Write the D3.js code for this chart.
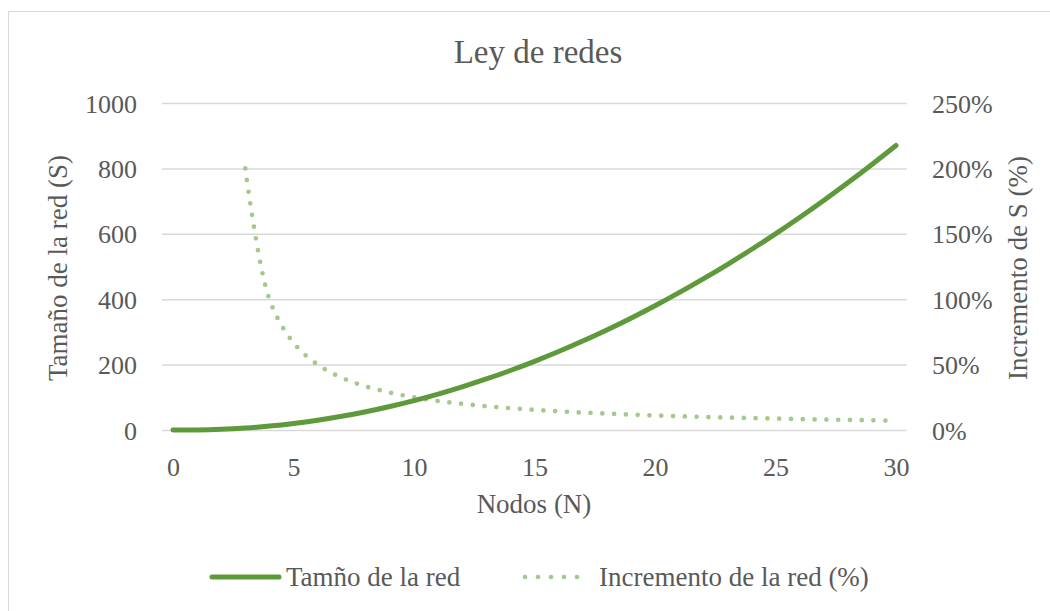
<!DOCTYPE html>
<html>
<head>
<meta charset="utf-8">
<script src="https://cdn.jsdelivr.net/npm/d3@7"></script>
<style>
  body { margin: 0; background: #fff; }
</style>
</head>
<body>
<div id="chart"></div>
<script>
// Data
const nodes = [0, 1, 2, 3, 4, 5, 6, 7, 8, 9, 10, 11, 12, 13, 14, 15, 16, 17, 18, 19, 20, 21, 22, 23, 24, 25, 26, 27, 28, 29, 30];
const networkSize = [0, 0, 2, 6, 12, 20, 30, 42, 56, 72, 90, 110, 132, 156, 182, 210, 240, 272, 306, 342, 380, 420, 462, 506, 552, 600, 650, 702, 756, 812, 870];
const increment = [null, null, null, 200, 100, 66.7, 50, 40, 33.3, 28.6, 25, 22.2, 20, 18.2, 16.7, 15.4, 14.3, 13.3, 12.5, 11.8, 11.1, 10.5, 10, 9.5, 9.1, 8.7, 8.3, 8.0, 7.7, 7.4, 7.1];

const xTicks = [0, 5, 10, 15, 20, 25, 30];
const leftTicks = [0, 200, 400, 600, 800, 1000];
const rightTicks = [0, 50, 100, 150, 200, 250];

const width = 1050, height = 611;
const solidColor = "#5e9a3b";
const dotColor = "#a3c98c";
const textColor = "#595959";
const serif = "'Liberation Serif'";

const svg = d3.select("#chart").append("svg")
    .attr("width", width)
    .attr("height", height);

// chart border
svg.append("rect")
    .attr("x", 8.5).attr("y", 11.5)
    .attr("width", width).attr("height", height)
    .attr("fill", "#fff")
    .attr("stroke", "#d9d9d9");

const plot = { left: 162, right: 907, top: 103, bottom: 430 };

const x = d3.scaleLinear().domain([0, 30]).range([173, 896]);
const yLeft = d3.scaleLinear().domain([0, 1000]).range([plot.bottom, plot.top]);
const yRight = d3.scaleLinear().domain([0, 250]).range([plot.bottom, plot.top]);

// gridlines
svg.append("g")
    .selectAll("line")
    .data(leftTicks)
    .enter().append("line")
    .attr("x1", plot.left).attr("x2", plot.right)
    .attr("y1", d => yLeft(d) + 0.5).attr("y2", d => yLeft(d) + 0.5)
    .attr("stroke", "#d9d9d9")
    .attr("stroke-width", 1.5);

function styleAxis(g, dy) {
    g.select(".domain").remove();
    g.attr("font-family", null).attr("font-size", null);
    g.selectAll("text")
        .style("font-family", serif)
        .style("font-size", "26px")
        .style("fill", textColor)
        .attr("dy", dy);
}

// left axis
svg.append("g")
    .attr("transform", `translate(${plot.left - 25},0)`)
    .call(d3.axisLeft(yLeft).tickValues(leftTicks).tickSize(0).tickPadding(0).tickFormat(d3.format("d")))
    .call(g => styleAxis(g, "0.35em"));

// right axis
svg.append("g")
    .attr("transform", `translate(${plot.right + 25},0)`)
    .call(d3.axisRight(yRight).tickValues(rightTicks).tickSize(0).tickPadding(0).tickFormat(d => d + "%"))
    .call(g => styleAxis(g, "0.35em"));

// bottom axis
svg.append("g")
    .attr("transform", `translate(0,${plot.bottom + 25})`)
    .call(d3.axisBottom(x).tickValues(xTicks).tickSize(0).tickPadding(0))
    .call(g => styleAxis(g, "0.8em"));

function label(sel, size) {
    return sel.style("font-family", serif).style("font-size", size).style("fill", textColor);
}

// titles
svg.append("text")
    .attr("x", 538).attr("y", 63)
    .attr("text-anchor", "middle")
    .call(label, "33px")
    .text("Ley de redes");

svg.append("text")
    .attr("x", 534).attr("y", 513)
    .attr("text-anchor", "middle")
    .call(label, "27px")
    .text("Nodos (N)");

svg.append("text")
    .attr("transform", "translate(67,268) rotate(-90)")
    .attr("text-anchor", "middle")
    .call(label, "27px")
    .text("Tamaño de la red (S)");

svg.append("text")
    .attr("transform", "translate(1027,268) rotate(-90)")
    .attr("text-anchor", "middle")
    .call(label, "27px")
    .text("Incremento de S (%)");

// series
const sizeLine = d3.line()
    .x((d, i) => x(nodes[i]))
    .y(d => yLeft(d))
    .curve(d3.curveCatmullRom);

const incLine = d3.line()
    .defined(d => d !== null)
    .x((d, i) => x(nodes[i]))
    .y(d => yRight(d))
    .curve(d3.curveCatmullRom);

svg.append("path")
    .datum(increment)
    .attr("d", incLine)
    .attr("fill", "none")
    .attr("stroke", dotColor)
    .attr("stroke-width", 4.7)
    .attr("stroke-linecap", "round")
    .attr("stroke-dasharray", "0 11.8");

svg.append("path")
    .datum(networkSize)
    .attr("d", sizeLine)
    .attr("fill", "none")
    .attr("stroke", solidColor)
    .attr("stroke-width", 5)
    .attr("stroke-linecap", "round");

// legend
const legend = svg.append("g");
legend.append("line")
    .attr("x1", 212).attr("x2", 279)
    .attr("y1", 577).attr("y2", 577)
    .attr("stroke", solidColor)
    .attr("stroke-width", 5)
    .attr("stroke-linecap", "round");
legend.append("text")
    .attr("x", 286).attr("y", 586)
    .call(label, "27px")
    .text("Tamño de la red");

legend.append("line")
    .attr("x1", 525).attr("x2", 590)
    .attr("y1", 577).attr("y2", 577)
    .attr("stroke", dotColor)
    .attr("stroke-width", 4.7)
    .attr("stroke-linecap", "round")
    .attr("stroke-dasharray", "0 13");
legend.append("text")
    .attr("x", 599).attr("y", 586)
    .call(label, "27px")
    .text("Incremento de la red (%)");
</script>
</body>
</html>
